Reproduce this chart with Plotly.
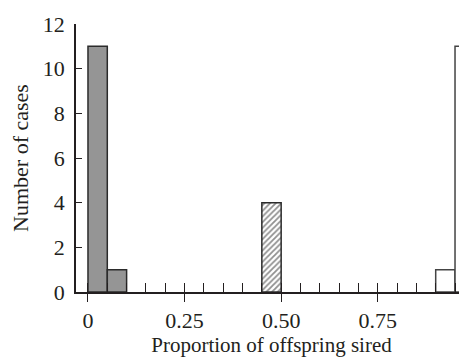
import plotly.graph_objects as go

# Data: histogram bins (left edge, width) and counts
bin_width = 0.05
gray_bins = [0.00, 0.05]
gray_counts = [11, 1]
hatched_bins = [0.45]
hatched_counts = [4]
white_bins = [0.90, 0.95]
white_counts = [1, 11]

major_ticks = [0, 0.25, 0.5, 0.75]
major_labels = ["0", "0.25", "0.50", "0.75"]
minor_ticks = [0.05, 0.10, 0.15, 0.20, 0.30, 0.35, 0.40, 0.45, 0.55, 0.60,
               0.65, 0.70, 0.80, 0.85, 0.90, 0.95]
y_ticks = [0, 2, 4, 6, 8, 10, 12]

ink = "#231f20"
font = dict(family="Liberation Serif", size=22, color=ink)
title_font = dict(family="Liberation Serif", size=21, color=ink)

fig = go.Figure()
fig.add_trace(go.Bar(x=gray_bins, y=gray_counts, width=bin_width, offset=0,
                     marker=dict(color="#959595", line=dict(color="#2b2b2b", width=1.5))))
fig.add_trace(go.Bar(x=hatched_bins, y=hatched_counts, width=bin_width, offset=0,
                     marker=dict(color="white", line=dict(color="#2b2b2b", width=1.5),
                                 pattern=dict(shape="/", fgcolor="#222222", bgcolor="white",
                                              size=4, solidity=0.45))))
fig.add_trace(go.Bar(x=white_bins, y=white_counts, width=bin_width, offset=0,
                     marker=dict(color="white", line=dict(color="#444444", width=1.5))))

# the page body adds an 8px offset, compensated in the margins
xr = [-0.031, 0.981]
fig.update_layout(
    width=467, height=358,
    margin=dict(l=68, r=8, t=16, b=74, autoexpand=False),
    paper_bgcolor="white", plot_bgcolor="white",
    showlegend=False, barmode="overlay",
    font=font,
    xaxis=dict(range=xr, tickvals=major_ticks, ticktext=major_labels,
               ticks="outside", ticklen=8, tickwidth=1.3, tickcolor=ink,
               showline=True, linecolor=ink, linewidth=1.5, automargin=False,
               showgrid=False, zeroline=False, tickfont=font,
               title=dict(text="Proportion of offspring sired", font=title_font, standoff=3)),
    xaxis2=dict(range=xr, overlaying="x", side="bottom", anchor="y",
                tickvals=minor_ticks + major_ticks, showticklabels=False,
                ticks="inside", ticklen=9, tickwidth=1.3, tickcolor=ink,
                showline=False, showgrid=False, zeroline=False, automargin=False),
    yaxis=dict(range=[0, 12], tickvals=y_ticks, ticks="inside", ticklen=6,
               tickwidth=1.3, tickcolor=ink, showline=True, linecolor=ink,
               linewidth=1.5, showgrid=False, zeroline=False, tickfont=font,
               ticklabelstandoff=5, automargin=False,
               title=dict(text="Number of cases", font=font, standoff=13)),
)
# invisible trace to activate the minor-tick axis
fig.add_trace(go.Scatter(x=[0], y=[0], xaxis="x2", mode="markers",
                         marker=dict(opacity=0), hoverinfo="skip"))

fig.write_html("out.html")
